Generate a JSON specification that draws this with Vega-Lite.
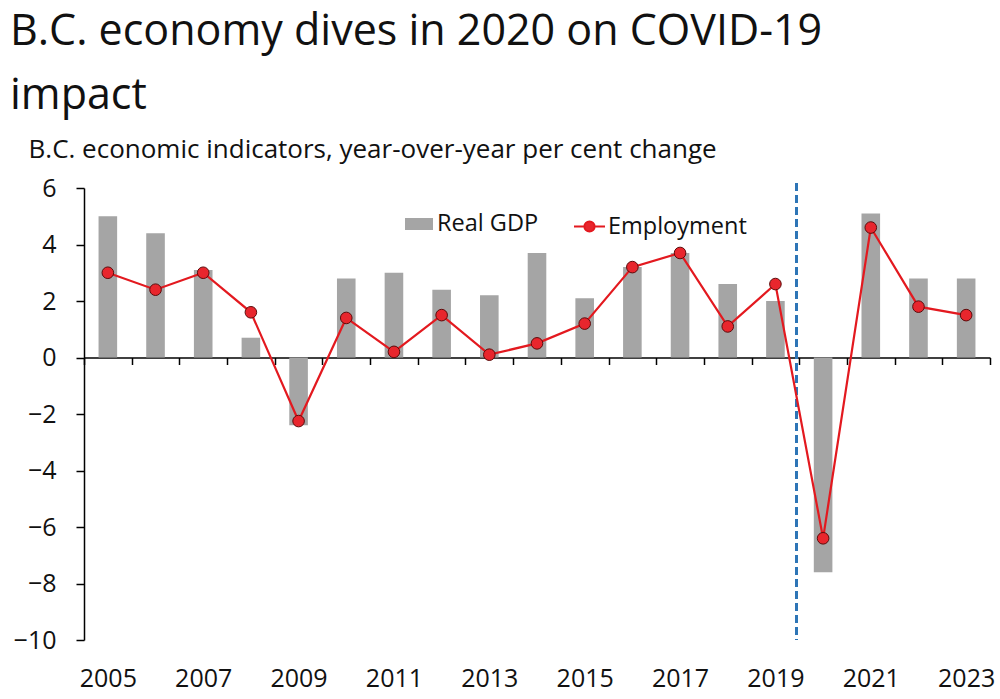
{
  "$schema": "https://vega.github.io/schema/vega-lite/v6.json",
  "width": 906,
  "height": 452,
  "autosize": {"type": "none"},
  "padding": {"left": 84, "top": 188, "right": 10, "bottom": 59},
  "background": "white",
  "title": {
    "text": ["B.C. economy dives in 2020 on COVID-19", "impact"],
    "anchor": "start",
    "frame": "group",
    "dx": -74,
    "offset": 18,
    "fontSize": 43,
    "font": "Open Sans",
    "fontWeight": "normal",
    "lineHeight": 64,
    "color": "#111111"
  },
  "config": {"view": {"stroke": null}, "font": "Open Sans"},
  "data": {
    "values": [
      {"year": 2005, "gdp": 5.0, "emp": 3.0},
      {"year": 2006, "gdp": 4.4, "emp": 2.4},
      {"year": 2007, "gdp": 3.1, "emp": 3.0},
      {"year": 2008, "gdp": 0.7, "emp": 1.6},
      {"year": 2009, "gdp": -2.4, "emp": -2.25},
      {"year": 2010, "gdp": 2.8, "emp": 1.4},
      {"year": 2011, "gdp": 3.0, "emp": 0.2},
      {"year": 2012, "gdp": 2.4, "emp": 1.5},
      {"year": 2013, "gdp": 2.2, "emp": 0.1},
      {"year": 2014, "gdp": 3.7, "emp": 0.5},
      {"year": 2015, "gdp": 2.1, "emp": 1.2},
      {"year": 2016, "gdp": 3.2, "emp": 3.2},
      {"year": 2017, "gdp": 3.7, "emp": 3.7},
      {"year": 2018, "gdp": 2.6, "emp": 1.1},
      {"year": 2019, "gdp": 2.0, "emp": 2.6},
      {"year": 2020, "gdp": -7.6, "emp": -6.4},
      {"year": 2021, "gdp": 5.1, "emp": 4.6},
      {"year": 2022, "gdp": 2.8, "emp": 1.8},
      {"year": 2023, "gdp": 2.8, "emp": 1.5}
    ]
  },
  "encoding": {
    "x": {
      "field": "year",
      "type": "ordinal",
      "scale": {"paddingInner": 0, "paddingOuter": 0},
      "axis": {
        "title": null,
        "tickBand": "extent",
        "offset": -282.5,
        "domainColor": "black",
        "domainWidth": 1.5,
        "tickColor": "black",
        "tickWidth": 1.5,
        "tickSize": 7,
        "labelPadding": 302,
        "labelFontSize": 25,
        "labelAngle": 0,
        "labelColor": "#111111",
        "labelExpr": "datum.value % 2 == 1 ? datum.label : ''"
      }
    }
  },
  "layer": [
    {
      "mark": {"type": "bar", "width": {"band": 0.39}},
      "encoding": {
        "y": {
          "field": "gdp",
          "type": "quantitative",
          "scale": {"domain": [-10, 6], "nice": false, "zero": false},
          "axis": {
            "values": [-10, -8, -6, -4, -2, 0, 2, 4, 6],
            "grid": false,
            "domainColor": "black",
            "domainWidth": 1.5,
            "tickColor": "black",
            "tickWidth": 1.5,
            "tickSize": 8,
            "labelPadding": 20,
            "labelFontSize": 25,
            "labelColor": "#111111",
            "title": "B.C. economic indicators, year-over-year per cent change",
            "titleAngle": 0,
            "titleX": -56,
            "titleY": -31,
            "titleAlign": "left",
            "titleBaseline": "alphabetic",
            "titleFontSize": 26,
            "titleFontWeight": "normal",
            "titleColor": "#111111"
          }
        },
        "fill": {
          "datum": "Real GDP",
          "type": "nominal",
          "scale": {"range": ["#a5a5a5"]},
          "legend": {
            "orient": "none",
            "legendX": 321,
            "legendY": 22,
            "title": null,
            "symbolType": "M-1,-0.43H1V0.43H-1Z",
            "symbolSize": 784,
            "symbolStrokeWidth": 0,
            "labelFontSize": 23.5,
            "labelOffset": 4,
            "labelColor": "#111111",
            "labelFont": "Open Sans"
          }
        }
      }
    },
    {
      "mark": {"type": "rule", "color": "#2e75b6", "strokeDash": [8, 4], "strokeWidth": 2, "xOffset": -3, "y": -5},
      "encoding": {
        "x": {"datum": 2020, "type": "ordinal", "bandPosition": 0}
      }
    },
    {
      "mark": {"type": "line", "strokeWidth": 2.2},
      "encoding": {
        "y": {
          "field": "emp",
          "type": "quantitative",
          "scale": {"domain": [-10, 6], "nice": false, "zero": false},
          "axis": {
            "values": [-10, -8, -6, -4, -2, 0, 2, 4, 6],
            "grid": false,
            "domainColor": "black",
            "domainWidth": 1.5,
            "tickColor": "black",
            "tickWidth": 1.5,
            "tickSize": 8,
            "labelPadding": 20,
            "labelFontSize": 25,
            "labelColor": "#111111",
            "title": "B.C. economic indicators, year-over-year per cent change",
            "titleAngle": 0,
            "titleX": -56,
            "titleY": -31,
            "titleAlign": "left",
            "titleBaseline": "alphabetic",
            "titleFontSize": 26,
            "titleFontWeight": "normal",
            "titleColor": "#111111"
          }
        },
        "stroke": {
          "datum": "Employment",
          "type": "nominal",
          "scale": {"range": ["#e3191f"]},
          "legend": {
            "orient": "none",
            "legendX": 489,
            "legendY": 22,
            "title": null,
            "symbolType": "M-1,0H-0.33A0.33,0.33,0,1,1,0.33,0H1M0.33,0A0.33,0.33,0,1,1,-0.33,0",
            "symbolSize": 961,
            "symbolStrokeWidth": 2,
            "symbolFillColor": "#e8262d",
            "labelFontSize": 23.5,
            "labelOffset": 2,
            "labelColor": "#111111",
            "labelFont": "Open Sans"
          }
        }
      }
    },
    {
      "mark": {"type": "point", "shape": "circle", "filled": true, "fill": "#e8262d", "stroke": "#5c0a0a", "strokeWidth": 1, "size": 135, "opacity": 1},
      "encoding": {
        "y": {
          "field": "emp",
          "type": "quantitative",
          "scale": {"domain": [-10, 6], "nice": false, "zero": false},
          "axis": {
            "values": [-10, -8, -6, -4, -2, 0, 2, 4, 6],
            "grid": false,
            "domainColor": "black",
            "domainWidth": 1.5,
            "tickColor": "black",
            "tickWidth": 1.5,
            "tickSize": 8,
            "labelPadding": 20,
            "labelFontSize": 25,
            "labelColor": "#111111",
            "title": "B.C. economic indicators, year-over-year per cent change",
            "titleAngle": 0,
            "titleX": -56,
            "titleY": -31,
            "titleAlign": "left",
            "titleBaseline": "alphabetic",
            "titleFontSize": 26,
            "titleFontWeight": "normal",
            "titleColor": "#111111"
          }
        }
      }
    }
  ]
}
